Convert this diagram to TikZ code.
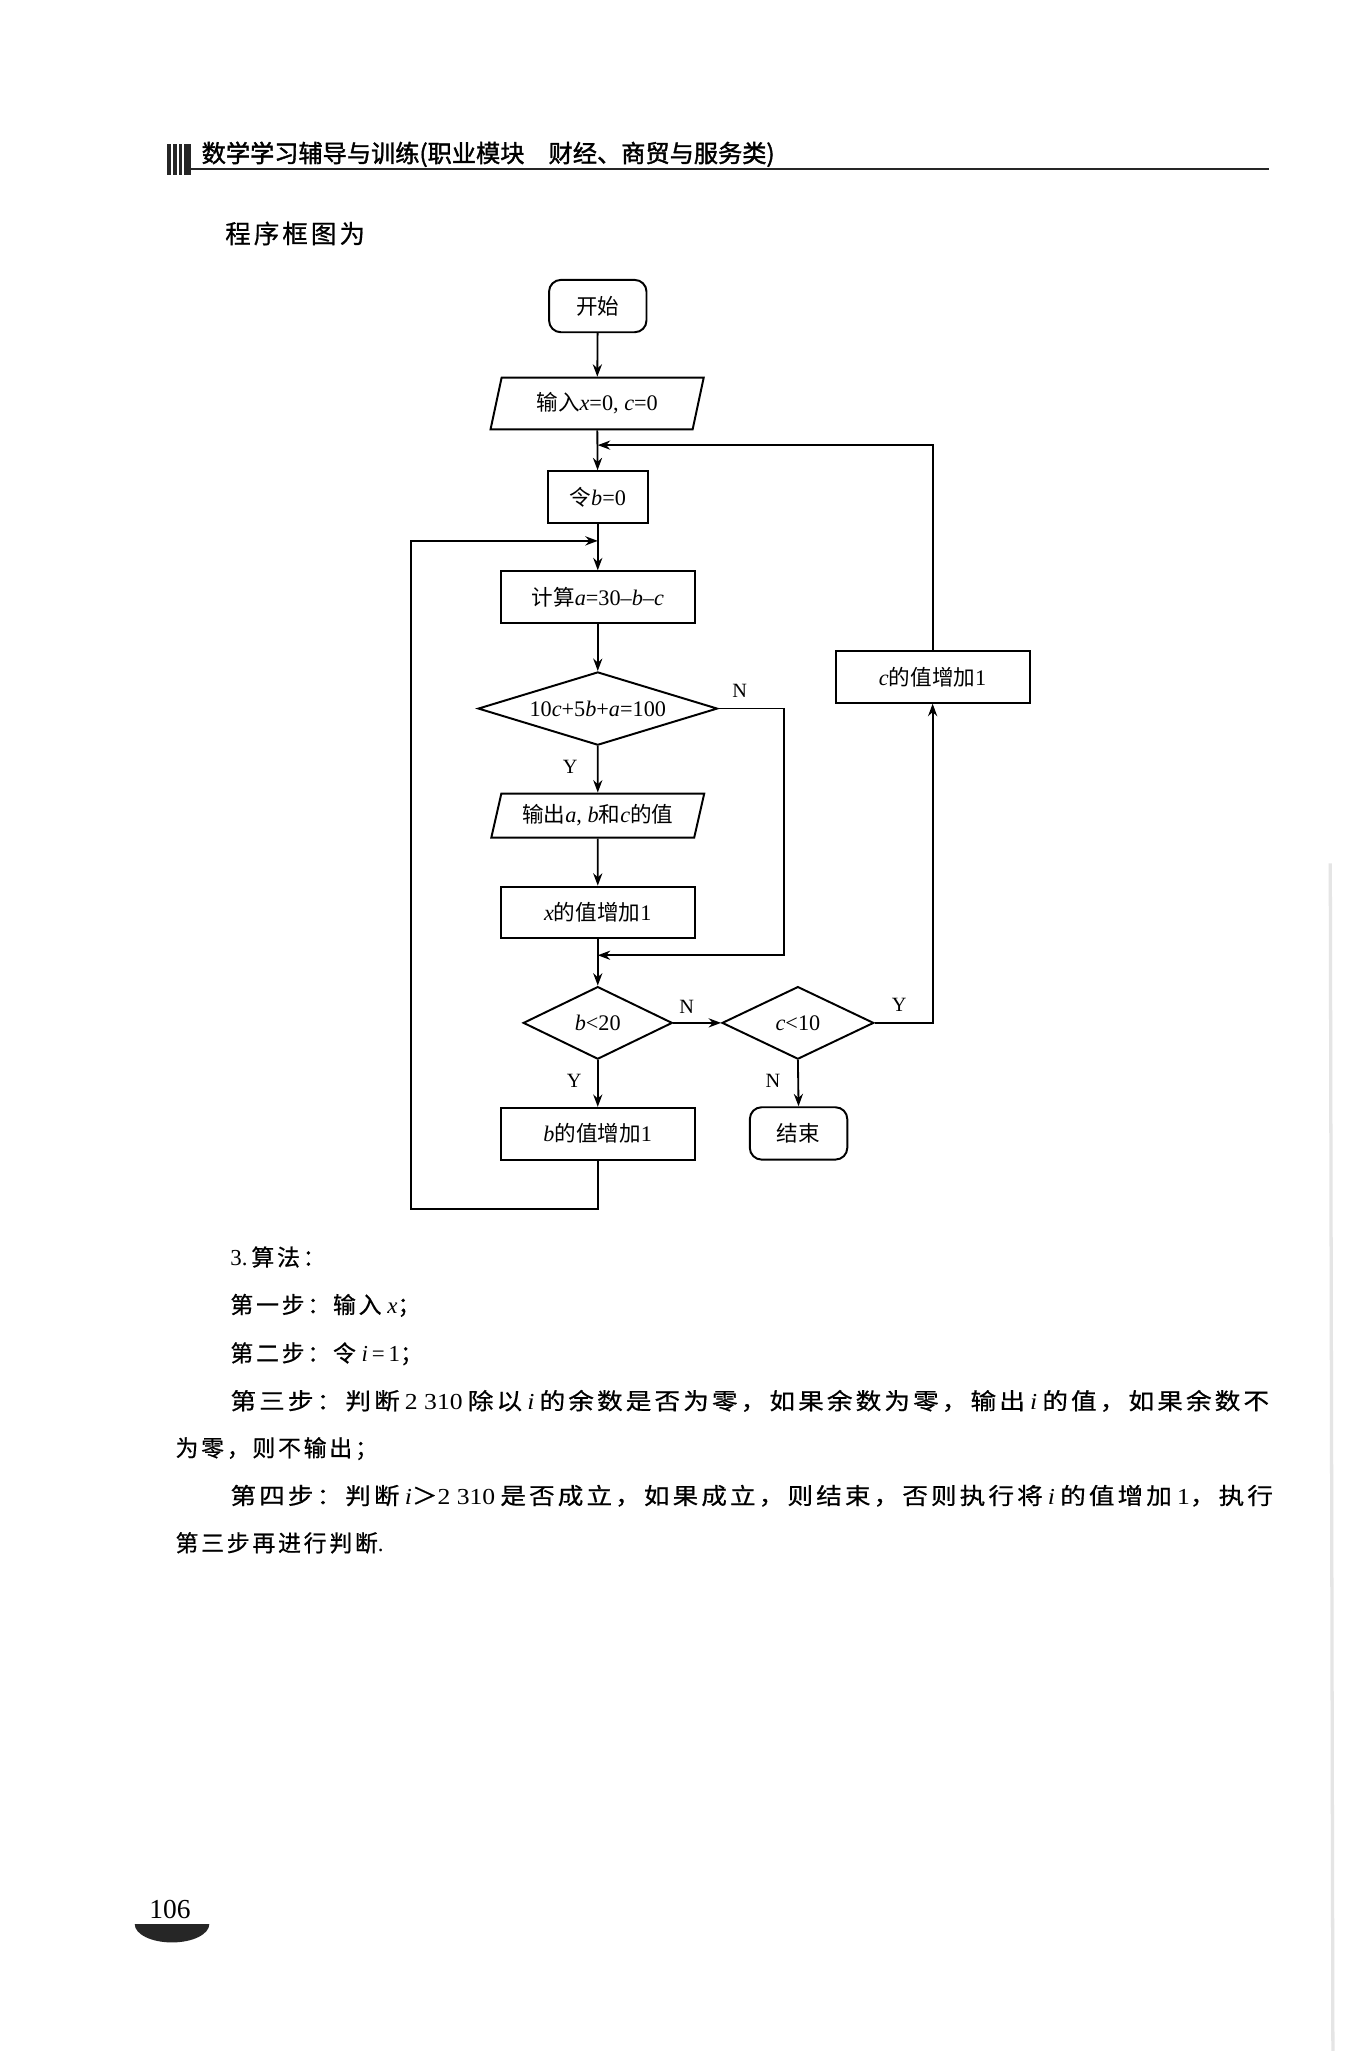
\documentclass[tikz,border=0pt]{standalone}
\usepackage{fontspec}
\usepackage{graphicx}
\setmainfont{Liberation Serif}
\newfontfamily\cjk{Noto Sans CJK SC}
\newfontfamily\cjkb[FakeBold=1.6]{Noto Sans CJK SC}
\newfontfamily\cjkbody[LetterSpace=12,FakeBold=0.6]{Noto Sans CJK SC}
\usetikzlibrary{shapes.geometric,arrows.meta}
\newcommand\zh[1]{{\cjk\fontsize{16.5}{20}\selectfont #1}}
\newcommand\mi[1]{\textit{#1}}
\newcommand\bz[1]{{\cjkbody #1}}
\tikzset{
  flow/.style={draw, line width=1.5pt, inner sep=0pt, font={\fontsize{17}{20}\selectfont}},
  procbox/.style={flow, rectangle, minimum width=148.5pt, minimum height=39.5pt},
  termbox/.style={flow, rectangle, rounded corners=9pt, minimum width=74.5pt, minimum height=40pt},
  iobox/.style={flow, trapezium, trapezium left angle=72, trapezium right angle=108,
     trapezium stretches=true, minimum width=163pt, minimum height=39.5pt},
  decbox/.style={flow, diamond, aspect=2.2},
  arr/.style={-{Stealth[length=9.5pt,width=7pt]}, line width=1.4pt},
  lab/.style={inner sep=0pt, font={\fontsize{15.5}{16}\selectfont}},
  bodytext/.style={inner sep=0pt, anchor=west, font={\fontsize{17.5}{20}\selectfont}}
}
\begin{document}
\begin{tikzpicture}[x=1pt,y=-1pt]
\fill[white] (0,0) rectangle (1037,1568);
\useasboundingbox (0,0) rectangle (1037,1568);

% header
\fill[black!85] (128,110) rectangle (130.5,134);
\fill[black!85] (132.5,110) rectangle (135,134);
\fill[black!85] (137,110) rectangle (139.5,134);
\fill[black!85] (141,110) rectangle (146,134);
\draw[line width=1.5pt, black!85] (146,129.5) -- (970,129.5);
\node[inner sep=0pt, anchor=west, font={\fontsize{18.5}{20}\selectfont}] (hdr) at (154,118)
  {\cjkb 数学学习辅导与训练(职业模块　财经、商贸与服务类)};
\node[bodytext, font={\fontsize{19.5}{22}\selectfont}] (intro) at (172,178.5) {\bz{程序框图为}};

% flowchart nodes
\node[termbox] (start) at (457,234) {\zh{开始}};
\node[iobox] (in) at (456.5,308.5) {\zh{输入}\mi{x}=0, \mi{c}=0};
\node[procbox, minimum width=76.5pt] (b0) at (457,380) {\zh{令}\mi{b}=0};
\node[procbox] (comp) at (457,456.5) {\zh{计算}\mi{a}=30–\mi{b}–\mi{c}};
\node[decbox, aspect=3.3, minimum width=183pt, minimum height=56pt] (d1) at (457,541.7) {10\mi{c}+5\mi{b}+\mi{a}=100};
\node[iobox, trapezium left angle=70, trapezium right angle=110, minimum height=33.7pt] (out) at (457,623.5) {\zh{输出}\mi{a}, \mi{b}\zh{和}\mi{c}\zh{的值}};
\node[procbox] (xinc) at (457,697.6) {\mi{x}\zh{的值增加}1};
\node[decbox, minimum width=114pt, minimum height=55.5pt] (d2) at (457,782) {\mi{b}<20};
\node[decbox, minimum width=116pt, minimum height=55.5pt] (d3) at (610,782) {\mi{c}<10};
\node[procbox] (binc) at (457,866.7) {\mi{b}\zh{的值增加}1};
\node[termbox] (end) at (610.5,866.5) {\zh{结束}};
\node[procbox] (cinc) at (713,517.5) {\mi{c}\zh{的值增加}1};

\coordinate (m1) at (457,340.3);
\coordinate (m2) at (457,413.5);
\coordinate (m3) at (457,730.3);
\coordinate (nr) at (599.6,541.7);
\coordinate (lb) at (314,924);

% connectors
\draw[arr] (start) -- (in);
\draw[arr] (in) -- (b0);
\draw[arr] (cinc.north) |- (m1);
\draw[arr] (b0) -- (comp);
\draw[arr] (binc.south) |- (lb) |- (m2);
\draw[arr] (comp) -- (d1);
\draw[arr] (d1) -- (out);
\draw[arr] (d1.east) -- (nr) |- (m3);
\draw[arr] (out) -- (xinc);
\draw[arr] (xinc) -- (d2);
\draw[arr] (d2.east) -- (d3.west);
\draw[arr] (d3.east) -| (cinc.south);
\draw[arr] (d3.south) -- (end.north);
\draw[arr] (d2.south) -- (binc.north);

% labels
\node[lab] (l1) at (565.5,528) {N};
\node[lab] (l2) at (436,586) {Y};
\node[lab] (l3) at (525,770) {N};
\node[lab] (l4) at (687.5,768.5) {Y};
\node[lab] (l5) at (439,826) {Y};
\node[lab] (l6) at (591,826) {N};

% body text
\node[bodytext] (t1) at (176,961) {3.\,\bz{算法：}};
\node[bodytext] (t2) at (176,998) {\bz{第一步：输入}\hspace{0.25em}\mi{x}\bz{；}};
\node[bodytext] (t3) at (176,1035) {\bz{第二步：令}\hspace{0.25em}\mi{i}\,=\,1\bz{；}};
\node[bodytext] (t4) at (176,1071) {\resizebox{794pt}{\height}{\bz{第三步：判断}\hspace{0.2em}2\hspace{0.25em}310\hspace{0.2em}\bz{除以}\hspace{0.2em}\mi{i}\hspace{0.2em}\bz{的余数是否为零，如果余数为零，输出}\hspace{0.2em}\mi{i}\hspace{0.2em}\bz{的值，如果余数不}}};
\node[bodytext] (t5) at (134,1107.5) {\bz{为零，则不输出；}};
\node[bodytext] (t6) at (176,1143.5) {\resizebox{797pt}{\height}{\bz{第四步：判断}\hspace{0.2em}\mi{i}\bz{＞}2\hspace{0.25em}310\hspace{0.2em}\bz{是否成立，如果成立，则结束，否则执行将}\hspace{0.2em}\mi{i}\hspace{0.2em}\bz{的值增加}\hspace{0.2em}1\bz{，执行}}};
\node[bodytext] (t7) at (134,1179.5) {\bz{第三步再进行判断}.};

% page number
\node[inner sep=0pt, font={\fontsize{21}{22}\selectfont}] (pg) at (130,1460) {106};
\fill[black!85] (103,1471) -- (160,1471) arc[start angle=0, end angle=180, x radius=28.5, y radius=14] -- cycle;

% page gutter shade
\draw[black!10, line width=2.5pt] (1017,660) -- (1019,1568);
\end{tikzpicture}
\end{document}
